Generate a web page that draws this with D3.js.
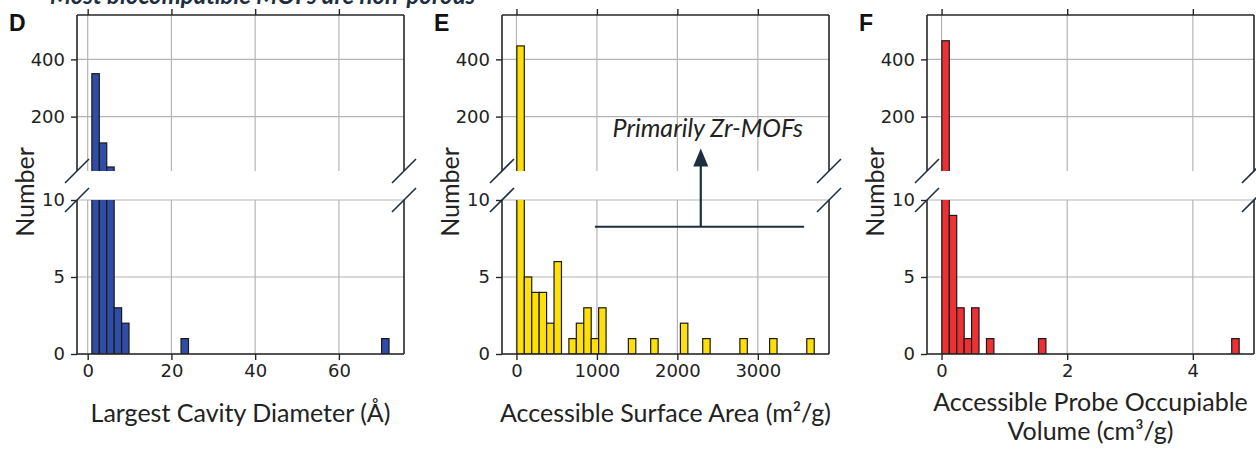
<!DOCTYPE html>
<html>
<head>
<meta charset="utf-8">
<script src="https://cdn.jsdelivr.net/npm/d3@7"></script>
<style>
  body { margin: 0; background: #fff; }
  svg { display: block; }
</style>
</head>
<body>
<script>
'use strict';

// ---- data (histogram bins with non-zero counts) ----
// D: largest cavity diameter (Å)
const lcdExtent = [1.0, 72.0];
const lcdBinWidth = 1.775;
const lcdBinStart = [1.0, 2.78, 4.55, 6.33, 8.1, 22.3, 70.2];
const lcdCounts = [350, 108, 24, 3, 2, 1, 1];
const lcdTicks = [0, 20, 40, 60];

// E: accessible surface area (m2/g)
const asaExtent = [5, 3700];
const asaBinWidth = 92.4;
const asaBinStart = [5, 97.4, 189.8, 282.2, 374.6, 467, 651.8, 744.2, 836.6, 929, 1021.4,
  1391, 1668.2, 2037.8, 2315, 2777, 3146.6, 3608.6];
const asaCounts = [447, 5, 4, 4, 2, 6, 1, 2, 3, 1, 3, 1, 1, 2, 1, 1, 1, 1];
const asaTicks = [0, 1000, 2000, 3000];

// F: accessible probe occupiable volume (cm3/g)
const povExtent = [0.005, 4.737];
const povBinWidth = 0.1183;
const povBinStart = [0.005, 0.123, 0.242, 0.36, 0.478, 0.715, 1.543, 4.619];
const povCounts = [465, 9, 3, 1, 3, 1, 1, 1];
const povTicks = [0, 2, 4];

// broken y axis
const topDomain = [10, 555];
const topTicks = [200, 400];
const botDomain = [0, 10];
const botTicks = [0, 5, 10];

const panels = [
  { letter: 'D', left: 77, extent: lcdExtent, bw: lcdBinWidth, starts: lcdBinStart, counts: lcdCounts,
    ticks: lcdTicks, color: '#2f4ca6', label: ['Largest Cavity Diameter (Å)'] },
  { letter: 'E', left: 502, extent: asaExtent, bw: asaBinWidth, starts: asaBinStart, counts: asaCounts,
    ticks: asaTicks, color: '#ffdf0a', label: ['Accessible Surface Area (m²/g)'] },
  { letter: 'F', left: 927, extent: povExtent, bw: povBinWidth, starts: povBinStart, counts: povCounts,
    ticks: povTicks, color: '#ec3034', label: ['Accessible Probe Occupiable', 'Volume (cm³/g)'] }
];

const W = 1256, H = 450;
const axW = 327;
const topY0 = 15, topY1 = 171;   // upper axes
const botY0 = 200, botY1 = 354;  // lower axes
const spine = '#262626';
const grid = '#b4b4b4';
const navy = '#1d2e40';
const labFont = 'Lato, "Open Sans", sans-serif';

const svg = d3.select('body').append('svg')
  .attr('width', W).attr('height', H);

// cut-off heading at the very top
svg.append('text')
  .attr('x', 50).attr('y', 4)
  .style('font-family', labFont)
  .style('font-style', 'italic')
  .style('font-weight', 'bold')
  .style('font-size', '24px')
  .attr('fill', navy)
  .text('Most biocompatible MOFs are non-porous');

const defs = svg.append('defs');

panels.forEach((p, i) => {
  const span = p.extent[1] - p.extent[0];
  const x = d3.scaleLinear()
    .domain([p.extent[0] - 0.05 * span, p.extent[1] + 0.05 * span])
    .range([p.left, p.left + axW]);
  const yTop = d3.scaleLinear().domain(topDomain).range([topY1, topY0]);
  const yBot = d3.scaleLinear().domain(botDomain).range([botY1, botY0]);

  const g = svg.append('g');

  // clip paths for the two halves
  defs.append('clipPath').attr('id', 'clipTop' + i)
    .append('rect').attr('x', p.left).attr('y', topY0).attr('width', axW).attr('height', topY1 - topY0);
  defs.append('clipPath').attr('id', 'clipBot' + i)
    .append('rect').attr('x', p.left).attr('y', botY0).attr('width', axW).attr('height', botY1 - botY0);

  // grid lines
  [[topY0, topY1], [botY0, botY1]].forEach(([a, b]) => {
    g.selectAll(null).data(p.ticks).enter().append('line')
      .attr('x1', d => x(d)).attr('x2', d => x(d))
      .attr('y1', a).attr('y2', b)
      .attr('stroke', grid).attr('stroke-width', 1.2);
  });
  g.selectAll(null).data(topTicks).enter().append('line')
    .attr('x1', p.left).attr('x2', p.left + axW)
    .attr('y1', d => yTop(d)).attr('y2', d => yTop(d))
    .attr('stroke', grid).attr('stroke-width', 1.2);
  g.selectAll(null).data(botTicks).enter().append('line')
    .attr('x1', p.left).attr('x2', p.left + axW)
    .attr('y1', d => yBot(d)).attr('y2', d => yBot(d))
    .attr('stroke', grid).attr('stroke-width', 1.2);

  const bins = p.starts.map((s, k) => ({ x0: s, x1: s + p.bw, n: p.counts[k] }));

  // bars, upper half
  g.append('g').attr('clip-path', `url(#clipTop${i})`)
    .selectAll('rect').data(bins.filter(d => d.n > topDomain[0])).enter().append('rect')
    .attr('x', d => x(d.x0)).attr('width', d => x(d.x1) - x(d.x0))
    .attr('y', d => yTop(d.n)).attr('height', d => yTop(topDomain[0]) + 5 - yTop(d.n))
    .attr('fill', p.color).attr('stroke', '#1a1a1a').attr('stroke-width', 1.2);

  // bars, lower half
  g.append('g').attr('clip-path', `url(#clipBot${i})`)
    .selectAll('rect').data(bins).enter().append('rect')
    .attr('x', d => x(d.x0)).attr('width', d => x(d.x1) - x(d.x0))
    .attr('y', d => yBot(Math.min(d.n, 12))).attr('height', d => yBot(0) - yBot(Math.min(d.n, 12)))
    .attr('fill', p.color).attr('stroke', '#1a1a1a').attr('stroke-width', 1.2);

  // spines
  const sp = (x1, y1, x2, y2) => g.append('line')
    .attr('x1', x1).attr('y1', y1).attr('x2', x2).attr('y2', y2)
    .attr('stroke', spine).attr('stroke-width', 1.6);
  sp(p.left, topY0, p.left + axW, topY0);
  sp(p.left, topY0, p.left, topY1);
  sp(p.left + axW, topY0, p.left + axW, topY1);
  sp(p.left, botY0, p.left, botY1);
  sp(p.left + axW, botY0, p.left + axW, botY1);
  sp(p.left, botY1, p.left + axW, botY1);

  // axes
  const fmt = d3.format('d');
  const yAxTop = d3.axisLeft(yTop).tickValues(topTicks).tickSize(6).tickPadding(6).tickFormat(fmt);
  const yAxBot = d3.axisLeft(yBot).tickValues(botTicks).tickSize(6).tickPadding(6).tickFormat(fmt);
  const xAxBot = d3.axisBottom(x).tickValues(p.ticks).tickSize(6).tickPadding(4).tickFormat(fmt);
  const xAxTop = d3.axisTop(x).tickValues(p.ticks).tickSize(6).tickFormat('');

  [[yAxTop, `translate(${p.left},0)`], [yAxBot, `translate(${p.left},0)`],
   [xAxBot, `translate(0,${botY1})`], [xAxTop, `translate(0,${topY0})`]].forEach(([ax, tr]) => {
    const a = g.append('g').attr('transform', tr).call(ax);
    a.select('.domain').remove();
    a.selectAll('.tick line').attr('stroke', spine).attr('stroke-width', 1.4);
    a.selectAll('.tick text')
      .style('font-family', '"DejaVu Sans", sans-serif')
      .style('font-size', '18px')
      .attr('fill', '#222');
  });

  // break marks
  [[p.left, topY1], [p.left + axW, topY1], [p.left, botY0], [p.left + axW, botY0]].forEach(([cx, cy]) => {
    g.append('line')
      .attr('x1', cx - 12).attr('y1', cy + 12).attr('x2', cx + 12).attr('y2', cy - 12)
      .attr('stroke', navy).attr('stroke-width', 1.6);
  });

  // axis labels
  const y0 = p.label.length === 1 ? 422 : 411;
  p.label.forEach((t, k) => {
    g.append('text')
      .attr('text-anchor', 'middle')
      .attr('x', p.left + axW / 2)
      .attr('y', y0 + k * 29)
      .style('font-family', labFont)
      .style('font-size', '25px')
      .attr('fill', '#222')
      .text(t);
  });

  g.append('text')
    .attr('text-anchor', 'middle')
    .attr('transform', `translate(${p.left - 43},192)rotate(-90)`)
    .style('font-family', labFont)
    .style('font-size', '25px')
    .attr('fill', '#222')
    .text('Number');

  // panel letter
  g.append('text')
    .attr('x', p.left - 68).attr('y', 31)
    .style('font-family', '"Liberation Sans", Arial, sans-serif')
    .style('font-weight', 'bold')
    .style('font-size', '23px')
    .attr('fill', '#111')
    .text(p.letter);

  // annotation on the surface area panel
  if (p.letter === 'E') {
    const lineY = yBot(8.27);
    g.append('line')
      .attr('x1', x(975)).attr('x2', x(3575))
      .attr('y1', lineY).attr('y2', lineY)
      .attr('stroke', navy).attr('stroke-width', 2);
    const ax = x(2291);
    const tipY = yTop(89);
    g.append('line')
      .attr('x1', ax).attr('x2', ax)
      .attr('y1', lineY).attr('y2', tipY + 14)
      .attr('stroke', navy).attr('stroke-width', 2.2);
    g.append('path')
      .attr('d', `M${ax},${tipY} L${ax - 7.5},${tipY + 18} L${ax + 7.5},${tipY + 18} Z`)
      .attr('fill', navy);
    g.append('text')
      .attr('x', x(2378)).attr('y', yTop(130))
      .attr('text-anchor', 'middle')
      .style('font-family', labFont)
      .style('font-style', 'italic')
      .style('font-size', '25px')
      .attr('fill', '#222')
      .text('Primarily Zr-MOFs');
  }
});
</script>
</body>
</html>
